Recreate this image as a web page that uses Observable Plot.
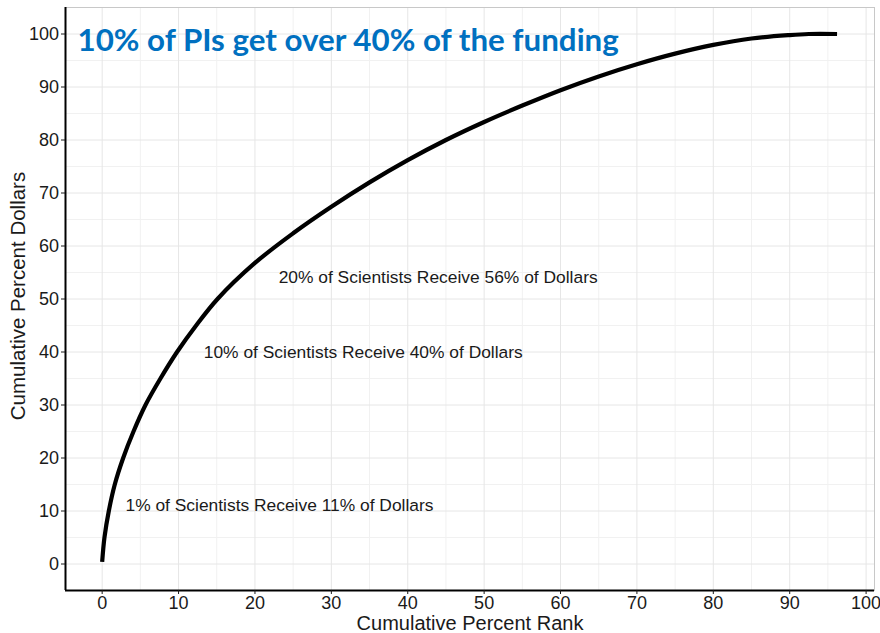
<!DOCTYPE html>
<html><head><meta charset="utf-8">
<script src="https://cdn.jsdelivr.net/npm/d3@7"></script>
<script src="https://cdn.jsdelivr.net/npm/@observablehq/plot@0.6"></script>
<style>body{margin:0;background:#fff} svg{display:block}</style>
</head><body><div id="chart"></div>
<script>
// Data
const rank    = [0, 0.3, 0.87, 1.65, 2.75, 4.1, 5.67, 7.63, 9.8, 12.3, 15.1, 20, 25, 30, 35, 40, 45, 50, 55, 60, 65, 70, 75, 80, 85, 90, 92.5, 96.2];
const dollars = [0.4, 5, 10, 15, 20, 25, 30, 35, 40, 45, 50, 56.8, 62.4, 67.4, 72, 76.2, 80, 83.4, 86.5, 89.4, 92, 94.3, 96.3, 97.95, 99.15, 99.8, 100, 100];

const noteText = [
  "1% of Scientists Receive 11% of Dollars",
  "10% of Scientists Receive 40% of Dollars",
  "20% of Scientists Receive 56% of Dollars"
];
const noteX = [3.05, 13.3, 23.1];
const noteY = [11, 40, 54];

const xTicks = d3.range(0, 101, 10);
const yTicks = d3.range(0, 101, 10);
const xMinor = d3.range(5, 100, 10);
const yMinor = d3.range(5, 100, 10);

const titleText = "10% of PIs get over 40% of the funding";
const xLabel = "Cumulative Percent Rank";
const yLabel = "Cumulative Percent Dollars";

const xDomain = [-4.8, 101.1];
const yDomain = [-5, 105];

const points = rank.map((r, i) => ({rank: r, dollars: dollars[i]}));
const notes = noteText.map((t, i) => ({t, x: noteX[i], y: noteY[i]}));

const chart = Plot.plot({
  width: 880,
  height: 633,
  marginLeft: 65,
  marginRight: 6,
  marginTop: 7,
  marginBottom: 43,
  x: {domain: xDomain},
  y: {domain: yDomain},
  style: {fontFamily: "'Liberation Sans', Arial, sans-serif", background: "white"},
  marks: [
    Plot.gridX(xMinor, {stroke: "#f1f1f1", strokeOpacity: 1}),
    Plot.gridY(yMinor, {stroke: "#f1f1f1", strokeOpacity: 1}),
    Plot.gridX(xTicks, {stroke: "#e6e6e6", strokeOpacity: 1}),
    Plot.gridY(yTicks, {stroke: "#e6e6e6", strokeOpacity: 1}),
    Plot.frame({stroke: "#c8c8c8"}),
    Plot.text(notes, {x: "x", y: "y", text: "t", textAnchor: "start", fontSize: 17.4, fill: "#1a1a1a"}),
    Plot.line(points, {x: "rank", y: "dollars", stroke: "black", strokeWidth: 4.2, curve: "catmull-rom", strokeLinecap: "butt"}),
    Plot.ruleX([xDomain[0]], {stroke: "black", strokeWidth: 2}),
    Plot.ruleY([yDomain[0]], {stroke: "black", strokeWidth: 2}),
    Plot.axisX({ticks: xTicks, tickSize: 4, tickPadding: 2, fontSize: 18, label: null, color: "#1a1a1a"}),
    Plot.axisY({ticks: yTicks, tickSize: 4, tickPadding: 2.5, fontSize: 18, label: null, color: "#1a1a1a"}),
    Plot.text([xLabel], {text: d => d, frameAnchor: "bottom", textAnchor: "middle", lineAnchor: "middle", dy: 33, fontSize: 20, fill: "#1a1a1a"}),
    Plot.text([yLabel], {text: d => d, frameAnchor: "left", textAnchor: "middle", lineAnchor: "middle", rotate: -90, dx: -47.5, dy: -3, fontSize: 20.5, fill: "#1a1a1a"}),
    Plot.text([titleText], {text: d => d, frameAnchor: "top-left", lineAnchor: "top", textAnchor: "start", dx: 12, dy: 21, fontSize: 31.3, fontWeight: "bold", fontFamily: "Lato", fill: "#0070C0"})
  ]
});
document.getElementById("chart").appendChild(chart);
</script>
</body></html>
